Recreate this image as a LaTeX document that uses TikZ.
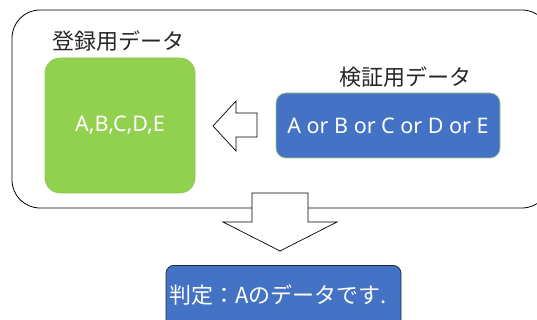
\documentclass[tikz,border=0pt]{standalone}
\usepackage{fontspec}
\setmainfont{Noto Sans CJK JP}
\newfontfamily\latinfont{Noto Sans}
\definecolor{grn}{HTML}{92D050}
\definecolor{grnline}{HTML}{8CC84E}
\definecolor{blu}{HTML}{4472C4}
\definecolor{bluline}{HTML}{9DCB7A}
\definecolor{darkline}{HTML}{222A35}
\begin{document}
\begin{tikzpicture}[x=1pt,y=-1pt,
  lbl/.style={font=\fontsize{22}{26}\selectfont, text=black!85, inner sep=0pt},
  wtxt/.style={font=\fontsize{22}{26}\selectfont, text=white, inner sep=0pt},
  ltxt/.style={font=\latinfont\fontsize{21.5}{26}\selectfont, text=white, inner sep=0pt},
  blockarrow/.style={draw=black, fill=white, line width=0.7pt, line join=miter}]
\useasboundingbox (0,0) rectangle (537,320);
\clip (0,0) rectangle (537,320);
% outer rounded box
\draw[line width=0.8pt, rounded corners=28pt] (12,10) rectangle (550,208);
% green box
\node[draw=grnline, fill=grn, rounded corners=15pt, minimum width=150pt, minimum height=135pt, line width=0.6pt] (reg) at (120,125.5) {};
\node[ltxt] at (reg.center) {A,B,C,D,E};
\node[lbl] (reglbl) at (118,41) {登録用データ};
% blue box
\node[draw=bluline, fill=blu, rounded corners=10pt, minimum width=224pt, minimum height=65pt, line width=0.6pt] (ver) at (388,125.5) {};
\node[ltxt] at (ver.center) {A or B or C or D or E};
\node[lbl] (verlbl) at (405,77) {検証用データ};
% left block arrow
\draw[blockarrow] (257,113) -- (236,113) -- (236,101) -- (213,126) -- (236,151) -- (236,137) -- (257,137) -- cycle;
% down block arrow
\draw[blockarrow] (252,193) -- (308,193) -- (308,222) -- (337,222) -- (280,251) -- (223,222) -- (252,222) -- cycle;
% result box
\node[draw=darkline, fill=blu, rounded corners=8pt, minimum width=235pt, minimum height=70pt, line width=0.8pt, anchor=north] (res) at (283.5,265) {};
\node[wtxt] at (278,295) {判定：Aのデータです.};
\end{tikzpicture}
\end{document}
